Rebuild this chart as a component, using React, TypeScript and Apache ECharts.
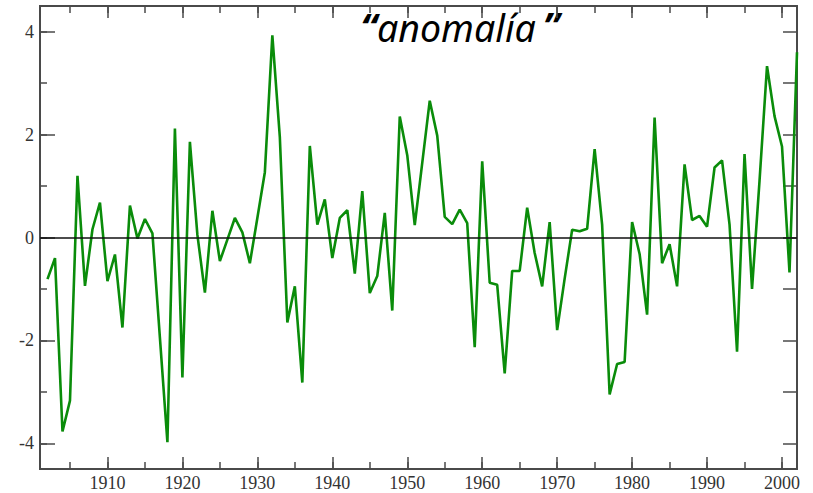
import React, { useEffect, useRef } from "react";
import * as echarts from "echarts";

const startYear = 1902;
const anomaly = [
  -0.81, -0.4, -3.77, -3.17, 1.2, -0.94, 0.16, 0.68, -0.85, -0.33,
  -1.75, 0.62, -0.02, 0.36, 0.08, -1.95, -3.98, 2.12, -2.72, 1.86,
  0.05, -1.07, 0.52, -0.46, -0.04, 0.38, 0.1, -0.5, 0.38, 1.27,
  3.93, 1.95, -1.65, -0.95, -2.82, 1.78, 0.25, 0.74, -0.4, 0.38,
  0.53, -0.7, 0.9, -1.08, -0.75, 0.48, -1.42, 2.35, 1.6, 0.24,
  1.45, 2.66, 1.98, 0.4, 0.26, 0.54, 0.28, -2.13, 1.48, -0.88,
  -0.92, -2.64, -0.65, -0.65, 0.58, -0.3, -0.95, 0.3, -1.8, -0.8,
  0.15, 0.12, 0.17, 1.72, 0.25, -3.05, -2.46, -2.42, 0.3, -0.32,
  -1.5, 2.33, -0.5, -0.13, -0.95, 1.42, 0.34, 0.42, 0.21, 1.36,
  1.5, 0.25, -2.22, 1.62, -1.0, 1.1, 3.33, 2.36, 1.77, -0.68,
  3.6,
];
const xMin = 1901;
const xMax = 2002;
const yMin = -4.5;
const yMax = 4.5;
const titleOpen = "\u201C";
const titleWord = "anomalía";
const titleClose = "\u201D";

const frame = "#4a4a4a";
const labelColor = "#333";

export default function App() {
  const ref = useRef<HTMLDivElement>(null);
  useEffect(() => {
    if (!ref.current) return;
    const chart = echarts.init(ref.current, undefined, { renderer: "svg" });
    const data = anomaly.map((v, i) => [startYear + i, v]);
    const xBase = (extra: any) => ({
      type: "value",
      min: xMin,
      max: xMax,
      splitLine: { show: false },
      axisLine: { show: true, onZero: false, lineStyle: { color: frame, width: 2 } },
      ...extra,
    });
    const yBase = (extra: any) => ({
      type: "value",
      min: yMin,
      max: yMax,
      splitLine: { show: false },
      axisLine: { show: true, onZero: false, lineStyle: { color: frame, width: 2 } },
      ...extra,
    });
    chart.setOption({
      animation: false,
      grid: { left: 40, right: 16, top: 6, bottom: 24, containLabel: false },
      xAxis: [
        xBase({
          position: "bottom",
          splitNumber: 10,
          axisTick: { inside: true, length: 12, lineStyle: { color: frame, width: 1.5 } },
          axisLabel: {
            color: labelColor,
            fontFamily: "Liberation Serif",
            fontSize: 18,
            margin: 5,
            formatter: (v: number) => (Math.abs(v % 10) < 1e-6 ? String(v) : ""),
          },
        }),
        xBase({
          position: "bottom",
          splitNumber: 20,
          axisTick: { inside: true, length: 7, lineStyle: { color: frame, width: 1.5 } },
          axisLabel: { show: false },
        }),
        xBase({
          position: "top",
          splitNumber: 10,
          axisTick: { inside: true, length: 12, lineStyle: { color: frame, width: 1.5 } },
          axisLabel: { show: false },
        }),
        xBase({
          position: "top",
          splitNumber: 20,
          axisTick: { inside: true, length: 7, lineStyle: { color: frame, width: 1.5 } },
          axisLabel: { show: false },
        }),
      ],
      yAxis: [
        yBase({
          position: "left",
          splitNumber: 5,
          axisTick: { inside: true, length: 15, lineStyle: { color: frame, width: 1.5 } },
          axisLabel: {
            color: labelColor,
            fontFamily: "Liberation Serif",
            fontSize: 18,
            margin: 6,
            formatter: (v: number) =>
              Number.isInteger(v) && v % 2 === 0 ? String(v) : "",
          },
        }),
        yBase({
          position: "left",
          splitNumber: 9,
          axisTick: { inside: true, length: 7, lineStyle: { color: frame, width: 1.5 } },
          axisLabel: { show: false },
        }),
        yBase({
          position: "right",
          splitNumber: 9,
          axisTick: { inside: true, length: 14, lineStyle: { color: frame, width: 1.5 } },
          axisLabel: { show: false },
        }),
      ],
      graphic: [
        {
          type: "text",
          x: 377,
          y: 27,
          style: {
            text: titleWord,
            font: 'italic 37.5px "Noto Sans"',
            fill: "#000",
            textAlign: "left",
            textVerticalAlign: "middle",
          },
        },
        {
          type: "text",
          x: 377,
          y: 26,
          style: {
            text: titleOpen,
            font: 'italic bold 38px "Noto Sans"',
            fill: "#000",
            textAlign: "right",
            textVerticalAlign: "middle",
          },
        },
        {
          type: "text",
          x: 543,
          y: 25,
          style: {
            text: titleClose,
            font: 'italic bold 38px "Noto Sans"',
            fill: "#000",
            textAlign: "left",
            textVerticalAlign: "middle",
          },
        },
      ],
      series: [
        {
          type: "line",
          xAxisIndex: 0,
          yAxisIndex: 0,
          data,
          showSymbol: false,
          symbol: "none",
          lineStyle: { color: "#0a8c0a", width: 2.6 },
          markLine: {
            silent: true,
            symbol: "none",
            label: { show: false },
            lineStyle: { color: "#111", width: 1.6, type: "solid" },
            data: [{ yAxis: 0 }],
          },
        },
      ],
    });
    return () => chart.dispose();
  }, []);
  return (
    <div
      ref={ref}
      style={{ position: "absolute", left: 0, top: 0, width: 813, height: 493 }}
    />
  );
}
